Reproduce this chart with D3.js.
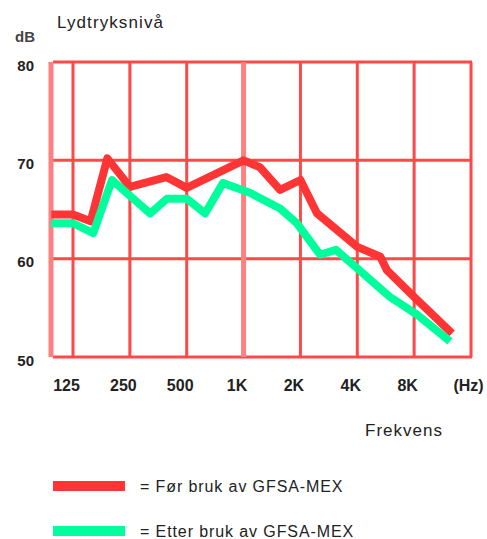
<!DOCTYPE html>
<html>
<head>
<meta charset="utf-8">
<script src="https://cdn.jsdelivr.net/npm/d3@7"></script>
<style>
  body { margin: 0; background: #fff; }
  text { font-family: "Liberation Sans", Arial, sans-serif; fill: #222; }
</style>
</head>
<body>
<script>
// chart data
const xTicks = [125, 250, 500, 1000, 2000, 4000, 8000, 16000];
const xTickLabels = ["125", "250", "500", "1K", "2K", "4K", "8K", "(Hz)"];
const yTicks = [50, 60, 70, 80];

const forFreq = [96, 125, 155, 190, 250, 390, 500, 1000, 1220, 1560, 2000, 2450, 4000, 5300, 5750, 8300, 12700];
const forDb = [64.5, 64.5, 63.8, 70.2, 67.3, 68.3, 67.2, 70.0, 69.3, 67.0, 68.0, 64.6, 61.2, 60.2, 58.8, 55.8, 52.4];

const etterFreq = [96, 125, 160, 201, 320, 393, 500, 625, 778, 1080, 1560, 1916, 2540, 3085, 5960, 8290, 12380];
const etterDb = [63.6, 63.6, 62.6, 68.0, 64.6, 66.1, 66.1, 64.6, 67.7, 66.7, 65.1, 63.6, 60.4, 60.9, 56.1, 54.3, 51.6];

const seriesNames = ["= Før bruk av GFSA-MEX", "=  Etter bruk av GFSA-MEX"];
const seriesColors = ["#ff3535", "#00ff9c"];

const width = 487;
const height = 539;

const svg = d3.select("body")
  .append("svg")
  .attr("width", width)
  .attr("height", height);

const x = d3.scaleLog().domain([95.6, 16000]).range([51, 471]);
const y = d3.scaleLinear().domain([50, 80]).range([357, 62]);

// grid
const grid = svg.append("g");

grid.selectAll(".hline")
  .data(yTicks)
  .join("line")
  .attr("x1", x(95.6) + 2)
  .attr("x2", x(16000) + 1)
  .attr("y1", (d) => y(d))
  .attr("y2", (d) => y(d))
  .attr("stroke", "#ff4848")
  .attr("stroke-width", 3);

grid.selectAll(".vline")
  .data(xTicks)
  .join("line")
  .attr("x1", (d) => x(d))
  .attr("x2", (d) => x(d))
  .attr("y1", y(80))
  .attr("y2", y(50))
  .attr("stroke", (d) => (d === 1000 ? "#ff8080" : "#ff4848"))
  .attr("stroke-width", (d) => (d === 1000 ? 5 : 3));

grid.append("line")
  .attr("x1", x(95.6))
  .attr("x2", x(95.6))
  .attr("y1", y(80))
  .attr("y2", y(50))
  .attr("stroke", "#ff8080")
  .attr("stroke-width", 5);

// axes labels
const xAxis = svg.append("g")
  .attr("transform", `translate(0,${y(50)})`)
  .call(d3.axisBottom(x).tickValues(xTicks).tickFormat((d, i) => xTickLabels[i]).tickSize(0).tickPadding(23));
xAxis.select(".domain").remove();
xAxis.selectAll("text")
  .attr("dx", (d) => (d === 16000 ? -3 : -7))
  .style("font-size", "16px")
  .style("font-weight", "bold")
  .style("fill", "#222");

const yAxis = svg.append("g")
  .attr("transform", "translate(34,0)")
  .call(d3.axisLeft(y).tickValues(yTicks).tickSize(0).tickPadding(0));
yAxis.select(".domain").remove();
yAxis.selectAll("text")
  .attr("dy", "0.55em")
  .style("font-size", "15px")
  .style("font-weight", "bold")
  .style("fill", "#222");

svg.append("text")
  .attr("x", 15)
  .attr("y", 42)
  .style("font-size", "15px")
  .style("font-weight", "bold")
  .style("fill", "#444")
  .text("dB");

svg.append("text")
  .attr("x", 57)
  .attr("y", 28)
  .style("font-size", "17px")
  .style("letter-spacing", "1.1px")
  .text("Lydtryksnivå");

svg.append("text")
  .attr("x", 365)
  .attr("y", 436)
  .style("font-size", "17px")
  .style("letter-spacing", "1px")
  .text("Frekvens");

// lines
const line = d3.line()
  .x((d) => x(d[0]))
  .y((d) => y(d[1]));

const series = [
  d3.zip(forFreq, forDb),
  d3.zip(etterFreq, etterDb)
];

svg.append("g")
  .selectAll("path")
  .data(series)
  .join("path")
  .attr("d", line)
  .attr("fill", "none")
  .attr("stroke", (d, i) => seriesColors[i])
  .attr("stroke-width", 8)
  .attr("stroke-linejoin", "round");

// legend
const legend = svg.append("g")
  .selectAll("g")
  .data(seriesNames)
  .join("g")
  .attr("transform", (d, i) => `translate(0,${486 + i * 45})`);

legend.append("rect")
  .attr("x", 53)
  .attr("y", -5)
  .attr("width", 72)
  .attr("height", 10)
  .attr("fill", (d, i) => seriesColors[i]);

legend.append("text")
  .attr("x", 140)
  .attr("y", 6)
  .style("font-size", "16px")
  .style("letter-spacing", "0.9px")
  .text((d) => d);
</script>
</body>
</html>
